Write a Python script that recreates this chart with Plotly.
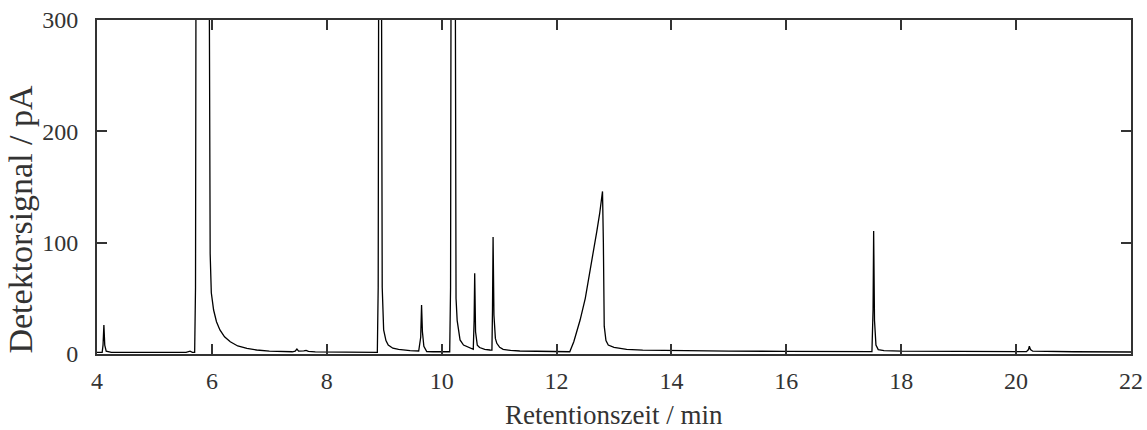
import plotly.graph_objects as go

# Retention time (min) and detector signal (pA).
# Values above 300 pA are off-scale peaks (clipped by the axis range).
time_min = [
    4.00, 4.09, 4.105, 4.12, 4.135, 4.16, 4.25, 5.55, 5.62, 5.66, 5.70,
    5.715, 5.725, 5.95, 5.97, 5.99, 6.03, 6.08, 6.14, 6.22, 6.32, 6.45,
    6.61, 6.78, 7.00, 7.20, 7.40, 7.45, 7.48, 7.51, 7.56, 7.60, 7.64,
    7.68, 7.80, 8.50, 8.88, 8.895, 8.905, 8.95, 8.965, 8.99, 9.03, 9.07,
    9.15, 9.25, 9.33, 9.45, 9.60, 9.635, 9.65, 9.665, 9.69, 9.74, 9.85,
    10.14, 10.155, 10.165, 10.235, 10.25, 10.27, 10.32, 10.38, 10.44,
    10.50, 10.55, 10.565, 10.575, 10.59, 10.62, 10.66, 10.75, 10.84,
    10.875, 10.885, 10.895, 10.91, 10.935, 10.96, 11.01, 11.07, 11.20,
    11.36, 11.80, 12.23, 12.30, 12.35, 12.41, 12.50, 12.58, 12.64, 12.70,
    12.75, 12.80, 12.815, 12.83, 12.86, 12.90, 13.00, 13.22, 13.50,
    13.98, 15.00, 16.00, 17.00, 17.49, 17.51, 17.52, 17.535, 17.56,
    17.60, 17.70, 18.00, 19.20, 19.26, 19.32, 20.18, 20.215, 20.23,
    20.25, 20.29, 21.00, 22.00,
]
signal_pA = [
    1.5, 1.5, 8, 26, 8, 2.5, 1.5, 1.5, 2.5, 1.5, 1.5,
    60, 400, 400, 90, 55, 39.5, 29, 21.6, 15.5, 11, 7.2,
    5, 3.6, 2.6, 2.1, 2.0, 2.5, 4.5, 2.6, 2.4, 2.8, 3.3,
    2.3, 1.9, 1.6, 1.5, 60, 400, 400, 60, 21.6, 12, 8,
    5.2, 4.2, 3.6, 3.0, 2.7, 15, 44, 20, 7, 2.2, 2.0,
    2.0, 60, 400, 400, 50, 30, 12.6, 8, 6.6,
    5, 4.2, 30, 72.5, 20, 8, 5.8, 4.2, 3.6,
    3.5, 40, 105, 35, 14, 9.6, 6, 4.2, 3.2,
    2.7, 2.2, 2.0, 11, 19, 30.5, 50, 72.5, 90.4, 110,
    126, 146, 100, 25, 12, 8, 6, 4.2, 3.4,
    3.0, 2.6, 2.4, 2.2, 2.1, 40, 110.5, 30, 8,
    4, 3, 2.5, 2.2, 2.7, 2.2, 2.1, 4, 7,
    4, 2.5, 2.0, 1.8,
]

x_ticks = [4, 6, 8, 10, 12, 14, 16, 18, 20, 22]
y_ticks = [0, 100, 200, 300]
x_title = "Retentionszeit / min"
y_title = "Detektorsignal / pA"

FONT = "Liberation Serif"
INK = "#333333"

fig = go.Figure()
fig.add_trace(go.Scatter(
    x=time_min, y=signal_pA, mode="lines",
    line=dict(color="black", width=1.3),
    hoverinfo="skip", showlegend=False,
))

axis_common = dict(
    showline=True, linecolor=INK, linewidth=2, mirror="ticks",
    ticks="inside", ticklen=10, tickwidth=2, tickcolor=INK,
    showgrid=False, zeroline=False, automargin=False,
    ticklabeloverflow="allow",
    tickfont=dict(family=FONT, size=24, color=INK),
)

fig.update_layout(
    width=1147, height=430,
    margin=dict(l=97, r=16, t=20, b=76),
    paper_bgcolor="white", plot_bgcolor="white",
    xaxis=dict(range=[4, 22], tickvals=x_ticks, ticklabelstandoff=4,
               **axis_common),
    yaxis=dict(range=[0, 300], tickvals=y_ticks, ticklabelstandoff=12,
               **axis_common),
    annotations=[
        dict(text=x_title, xref="paper", yref="paper", x=0.5, y=-0.183,
             xanchor="center", yanchor="middle", showarrow=False,
             font=dict(family=FONT, size=27, color=INK)),
        dict(text=y_title, xref="paper", yref="paper", x=-0.074, y=0.404,
             xanchor="center", yanchor="middle", showarrow=False, textangle=-90,
             font=dict(family=FONT, size=34, color=INK)),
    ],
)

# remove the default page margin so the figure fills the window exactly
fig.write_html("out.html",
               config={"displayModeBar": False},
               post_script="document.body.style.margin='0';"
                           "document.body.style.overflow='hidden';")
